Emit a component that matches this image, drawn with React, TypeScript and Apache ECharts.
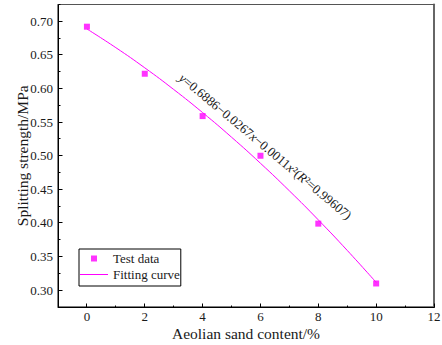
import React, { useEffect, useRef } from 'react';
import * as echarts from 'echarts';

const testX = [0, 2, 4, 6, 8, 10];
const testY = [0.692, 0.622, 0.559, 0.5, 0.399, 0.31];
const fitX = [0, 1, 2, 3, 4, 5, 6, 7, 8, 9, 10];
const fitY = [0.6886, 0.6608, 0.6308, 0.5986, 0.5642, 0.5276, 0.4888, 0.4478, 0.4046, 0.3592, 0.3116];
const xMajorTicks = [0, 2, 4, 6, 8, 10, 12];
const xMinorTicks = [1, 3, 5, 7, 9, 11];
const yMajorTicks = [0.3, 0.35, 0.4, 0.45, 0.5, 0.55, 0.6, 0.65, 0.7];
const yMinorTicks = [0.325, 0.375, 0.425, 0.475, 0.525, 0.575, 0.625, 0.675, 0.725];
const seriesNames = ['Test data', 'Fitting curve'];
const xName = 'Aeolian sand content/%';
const yName = 'Splitting strength/MPa';
const equation = '{i|y}=0.6886\u22120.0267{i|x}\u22120.0011{i|x}\u00b2({i|R}\u00b2=0.99607)';

const X_MIN = -1, X_MAX = 12, Y_MIN = 0.275, Y_MAX = 0.725;
const FONT = 'Liberation Serif, serif';
const TEXT = '#1a1a1a';
const MAGENTA = '#ff00ff';

const isMultiple = (v: number, step: number) => Math.abs(v / step - Math.round(v / step)) < 1e-6;

export default function App() {
  const ref = useRef<HTMLDivElement>(null);
  useEffect(() => {
    if (!ref.current) return;
    const chart = echarts.init(ref.current, undefined, { renderer: 'svg' });
    const axisText = { fontFamily: FONT, fontSize: 13, color: TEXT };
    const equationGraphic = {
      id: 'eq', type: 'text', x: 181, y: 76, rotation: -0.695, z: 10,
      style: {
        text: equation,
        fontFamily: FONT, fontSize: 13, fill: TEXT,
        textAlign: 'left', textVerticalAlign: 'middle',
        rich: { i: { fontFamily: FONT, fontSize: 13, fontStyle: 'italic', fill: TEXT } },
      },
    };
    chart.setOption({
      animation: false,
      backgroundColor: '#ffffff',
      grid: {
        left: 58, right: 8, top: 4.5, bottom: 38, containLabel: false, outerBoundsMode: 'none',
        show: true, borderColor: '#000', borderWidth: 1, backgroundColor: 'transparent',
      },
      xAxis: [
        {
          type: 'value', min: X_MIN, max: X_MAX, interval: 1, position: 'bottom',
          axisLine: { show: true, onZero: false, lineStyle: { color: '#000', width: 1 } },
          axisTick: { show: false },
          axisLabel: {
            ...axisText, margin: 3, hideOverlap: false,
            formatter: (v: number) => (isMultiple(v, 2) ? String(Math.round(v)) : ''),
          },
          splitLine: { show: false },
          name: xName, nameLocation: 'middle', nameGap: 18, nameMoveOverlap: false,
          nameTextStyle: { fontFamily: FONT, fontSize: 15.5, color: TEXT },
        },
        {
          type: 'value', min: X_MIN, max: X_MAX, position: 'top',
          axisLine: { show: true, onZero: false, lineStyle: { color: '#555', width: 1 } },
          axisTick: { show: false }, axisLabel: { show: false }, splitLine: { show: false },
        },
      ],
      yAxis: [
        {
          type: 'value', min: Y_MIN, max: Y_MAX, interval: 0.025, position: 'left',
          axisLine: { show: true, onZero: false, lineStyle: { color: '#000', width: 1 } },
          axisTick: { show: false },
          axisLabel: {
            ...axisText, margin: 5, hideOverlap: false,
            formatter: (v: number) => (isMultiple(v, 0.05) ? v.toFixed(2) : ''),
          },
          splitLine: { show: false },
          name: yName, nameLocation: 'middle', nameGap: 28, nameMoveOverlap: false,
          nameTextStyle: { fontFamily: FONT, fontSize: 15.5, color: TEXT },
        },
        {
          type: 'value', min: Y_MIN, max: Y_MAX, position: 'right',
          axisLine: { show: true, onZero: false, lineStyle: { color: '#666', width: 2 } },
          axisTick: { show: false }, axisLabel: { show: false }, splitLine: { show: false },
        },
      ],
      legend: {
        left: 79, top: 249,
        orient: 'vertical',
        data: [
          { name: seriesNames[0], icon: 'path://M0,0L0.05,0L0.05,0.05ZM11,0h6v6h-6zM28,6L27.95,6L27.95,5.95Z' },
          { name: seriesNames[1], icon: 'path://M0,0h28v1h-28z' },
        ],
        itemWidth: 28, itemHeight: 6, itemGap: 3,
        padding: [3, 1, 5, 1],
        borderColor: '#000', borderWidth: 1,
        backgroundColor: '#fff',
        textStyle: { fontFamily: FONT, fontSize: 13, color: TEXT },
      },
      series: [
        {
          name: seriesNames[0], type: 'scatter', xAxisIndex: 0, yAxisIndex: 0,
          symbol: 'rect', symbolSize: 6, z: 3,
          itemStyle: { color: MAGENTA },
          data: testX.map((x, i) => [x, testY[i]]),
        },
        {
          name: seriesNames[1], type: 'line', xAxisIndex: 0, yAxisIndex: 0,
          symbol: 'none', smooth: true, z: 2,
          lineStyle: { color: MAGENTA, width: 1 },
          itemStyle: { color: MAGENTA },
          data: fitX.map((x, i) => [x, fitY[i]]),
        },
      ],
      graphic: [equationGraphic],
    });

    // Axis lines and ticks placed through the chart's own scales
    const toPx = (x: number, y: number) =>
      chart.convertToPixel({ xAxisIndex: 0, yAxisIndex: 0 }, [x, y]) as number[];
    const crisp = (v: number) => Math.floor(v) + 0.5;
    const [x0, yb] = toPx(X_MIN, Y_MIN);
    const [x1, yt] = toPx(X_MAX, Y_MAX);
    const lx = crisp(x0);
    const by = crisp(yb);
    const lineStyle = { stroke: '#000', lineWidth: 1 };
    const frame: any[] = [
      { id: 'axL', type: 'line', z: 50, shape: { x1: lx, y1: yt, x2: lx, y2: by + 0.5 }, style: lineStyle },
      { id: 'axB', type: 'line', z: 50, shape: { x1: lx - 0.5, y1: by, x2: x1, y2: by }, style: lineStyle },
    ];
    const addX = (vals: number[], len: number, key: string) =>
      vals.forEach((v, i) => {
        const px = crisp(toPx(v, Y_MIN)[0]);
        frame.push({ id: key + i, type: 'line', z: 50, shape: { x1: px, y1: by, x2: px, y2: by - len }, style: lineStyle });
      });
    const addY = (vals: number[], len: number, key: string) =>
      vals.forEach((v, i) => {
        const py = crisp(toPx(X_MIN, v)[1]);
        frame.push({ id: key + i, type: 'line', z: 50, shape: { x1: lx, y1: py, x2: lx + len, y2: py }, style: lineStyle });
      });
    addX(xMajorTicks, 4, 'xM');
    addX(xMinorTicks, 2, 'xm');
    addY(yMajorTicks, 4, 'yM');
    addY(yMinorTicks, 2, 'ym');
    chart.setOption({ graphic: [equationGraphic, ...frame] });

    return () => chart.dispose();
  }, []);
  return <div ref={ref} style={{ width: 442, height: 345, position: 'absolute', left: 0, top: 0 }} />;
}
